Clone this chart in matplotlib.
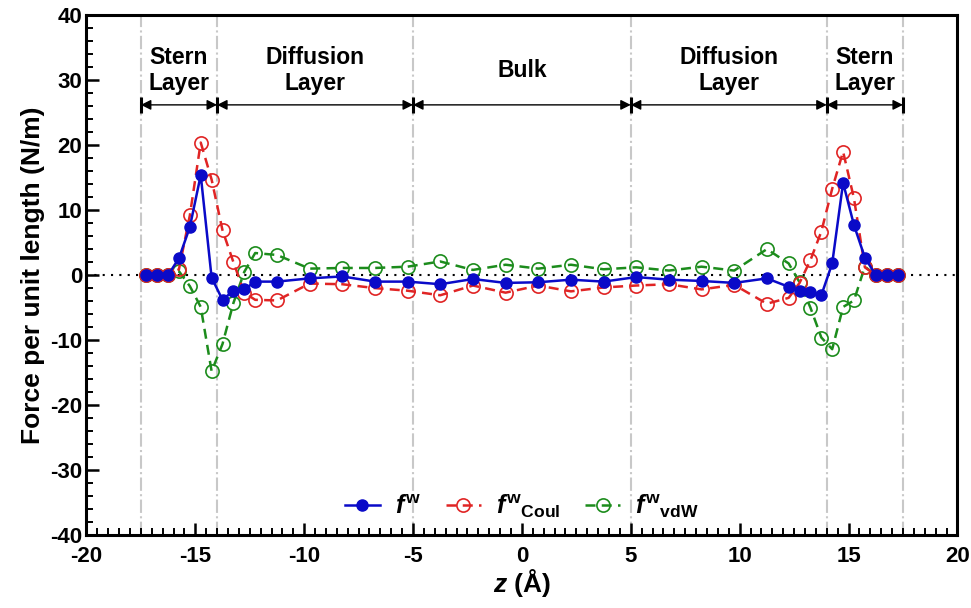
import matplotlib
matplotlib.use('Agg')
import matplotlib.pyplot as plt

plt.rcParams['font.family'] = ['Liberation Sans', 'DejaVu Sans']
plt.rcParams['axes.unicode_minus'] = False
plt.rcParams['mathtext.fontset'] = 'custom'
plt.rcParams['mathtext.rm'] = 'Liberation Sans:bold'
plt.rcParams['mathtext.bf'] = 'Liberation Sans:bold'
plt.rcParams['mathtext.it'] = 'Liberation Sans:italic:bold'

# bin centres (Angstrom)
z = [-17.25, -16.75, -16.25, -15.75, -15.25, -14.75, -14.25, -13.75, -13.25, -12.75, -12.25,
     -11.25, -9.75, -8.25, -6.75, -5.25, -3.75, -2.25, -0.75, 0.75, 2.25, 3.75, 5.25,
     6.75, 8.25, 9.75, 11.25,
     12.25, 12.75, 13.25, 13.75, 14.25, 14.75, 15.25, 15.75, 16.25, 16.75, 17.25]

# total force f^w
f_total = [0, 0, 0, 2.6, 7.4, 15.4, -0.4, -3.8, -2.4, -2.2, -1.0,
           -1.0, -0.5, -0.2, -1.0, -1.0, -1.4, -0.6, -1.2, -1.1, -0.7, -1.0, -0.3,
           -0.7, -0.9, -1.2, -0.5,
           -1.8, -2.4, -2.6, -3.1, 1.8, 14.2, 7.7, 2.7, 0, 0, 0]

# Coulomb part
f_coul = [0, 0, 0, 0.9, 9.2, 20.4, 14.7, 6.9, 2.0, -2.7, -3.8,
          -3.9, -1.3, -1.4, -2.0, -2.4, -3.1, -1.6, -2.7, -1.6, -2.5, -1.9, -1.6,
          -1.4, -2.2, -1.5, -4.4,
          -3.5, -1.2, 2.3, 6.7, 13.3, 19.0, 11.8, 1.2, 0, 0, 0]

# van der Waals part
f_vdw = [0, 0, 0, 0.6, -1.7, -4.9, -14.8, -10.6, -4.3, 0.5, 3.4,
         3.1, 1.0, 1.1, 1.1, 1.3, 2.1, 0.8, 1.6, 1.0, 1.6, 0.9, 1.2,
         0.7, 1.3, 0.7, 4.0,
         1.8, -1.1, -5.0, -9.6, -11.4, -4.9, -3.9, 1.3, 0, 0, 0]

# region boundaries and labels
bounds = [-17.5, -14, -5, 5, 14, 17.5]
regions = ['Stern\nLayer', 'Diffusion\nLayer', 'Bulk', 'Diffusion\nLayer', 'Stern\nLayer']

fig = plt.figure(figsize=(9.71, 6.08), dpi=100)
ax = fig.add_axes([0.089, 0.12, 0.897, 0.855])

for b in bounds:
    ax.axvline(b, color='#c8c8c8', lw=1.5, ls='-.', zorder=0)
ax.axhline(0, color='black', lw=1.5, ls=(0, (1, 3)), zorder=1)

l_vdw, = ax.plot(z, f_vdw, color='#1c8c1c', lw=1.8, ls=(0, (4, 2.5)), marker='o',
                 ms=9.5, mfc='none', mew=1.2, zorder=2)
l_coul, = ax.plot(z, f_coul, color='#e02424', lw=1.8, ls=(0, (4, 2.5)), marker='o',
                  ms=9.5, mfc='none', mew=1.2, zorder=3)
l_tot, = ax.plot(z, f_total, color='#0a0ac8', lw=1.8, marker='o', ms=8, zorder=4)

# region arrows
ya = 26.2
for i in range(len(bounds) - 1):
    ax.annotate('', xy=(bounds[i + 1], ya), xytext=(bounds[i], ya),
                arrowprops=dict(arrowstyle='<|-|>', color='black', lw=1.0,
                                shrinkA=0, shrinkB=0, mutation_scale=15))
    xc = (bounds[i] + bounds[i + 1]) / 2
    ax.text(xc, 31.5, regions[i], ha='center', va='center', fontsize=16.5,
            fontweight='bold', linespacing=1.2)
ax.plot(bounds, [ya] * len(bounds), ls='none', marker='|', ms=11, mew=2.2, color='black')

ax.set_xlim(-20, 20)
ax.set_ylim(-40, 40)
ax.set_xticks(range(-20, 21, 5))
ax.set_yticks(range(-40, 41, 10))
ax.set_xticks([x * 0.5 for x in range(-40, 41)], minor=True)
ax.set_yticks(range(-40, 41, 2), minor=True)
ax.tick_params(which='major', direction='in', length=9, width=1.8)
ax.tick_params(which='minor', direction='in', length=5, width=1.4)
ax.tick_params(axis='x', which='both', top=False, pad=8)
ax.tick_params(axis='y', which='both', right=False, pad=3)
for lab in ax.get_xticklabels():
    lab.set_fontweight('bold')
    lab.set_fontsize(16)
for lab in ax.get_yticklabels():
    lab.set_fontweight('bold')
    lab.set_fontsize(16)
for sp in ax.spines.values():
    sp.set_linewidth(2.2)

ax.set_xlabel(r'$z$ (Å)', fontsize=19, fontweight='bold', labelpad=0)
ax.set_ylabel('Force per unit length (N/m)', fontsize=19, fontweight='bold', labelpad=4)

ax.legend([l_tot, l_coul, l_vdw],
          [r'$f^{\rm w}$', r'$f^{\rm w}{}_{\rm Coul}$', r'$f^{\rm w}{}_{\rm vdW}$'],
          loc='lower center', bbox_to_anchor=(0.5, -0.015), ncol=3, frameon=False,
          fontsize=18, handlelength=1.4, columnspacing=1.0, handletextpad=0.6)

fig.savefig('out.png', dpi=100)
